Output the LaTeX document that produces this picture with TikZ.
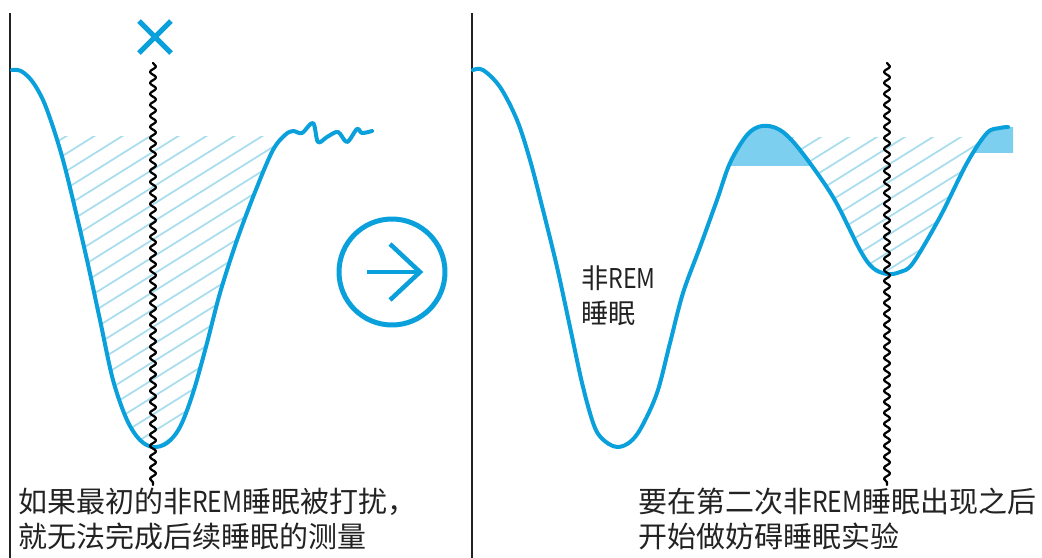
\documentclass[tikz,border=0pt]{standalone}
\usepackage{fontspec}
\newfontfamily\cjk{Noto Sans CJK SC}
\usetikzlibrary{calc,decorations.pathmorphing}

\definecolor{sleepblue}{HTML}{0AA0DC}
\definecolor{sleepfill}{HTML}{7DCFF0}
\definecolor{hatchblue}{HTML}{A8DDEE}
\definecolor{inkgray}{HTML}{222222}

\newcommand\remtxt{\scalebox{0.85}[1]{REM}}

\tikzset{
  sleepcurve/.style={draw=sleepblue, line width=0.08cm},
  hatchline/.style={draw=hatchblue, line width=0.035cm},
  framebar/.style={draw=inkgray, line width=0.05cm, line cap=butt},
  wakeline/.style={draw=black, line width=0.045cm, decorate,
    decoration={snake, amplitude=0.06cm, segment length=0.22cm}},
  crossmark/.style={draw=sleepblue, line width=0.1cm, line cap=butt},
  arrowstroke/.style={draw=sleepblue, line width=0.09cm, line join=miter, line cap=butt},
  note/.style={font=\cjk\fontsize{16.5}{19.9}\selectfont, align=left, inner sep=0pt, text=inkgray},
  % 两条睡眠曲线
  curveL/.style={insert path={plot[smooth, tension=0.55] coordinates {
    (12,70) (21,71) (32,81) (43,100) (53,127) (63,160) (73,200) (87,260)
    (100,320) (113,380) (127,420) (140,440) (153,447) (167,443) (180,427)
    (193,393) (207,343) (220,293) (237,240) (257,187) (273,150) (285,135)
    (293,131) (302,133) (313,123) (318,142) (327,137) (338,132) (347,142)
    (357,129) (362,133) (372,131)}}},
  curveR/.style={insert path={plot[smooth, tension=0.55] coordinates {
    (473,70) (483,70) (500,87) (517,120) (530,160) (543,210) (557,267)
    (570,327) (583,387) (595,428) (606,442) (618,447) (630,442) (641,428)
    (657,393) (670,343) (683,293) (700,247) (717,200) (730,163) (747,135)
    (762,126) (780,130) (800,150) (833,197) (860,250) (873,268) (887,274)
    (900,272) (913,263) (940,217) (967,163) (987,133) (1000,128) (1008,127)}}}
}

\begin{document}
\begin{tikzpicture}[x=0.02cm, y=-0.02cm, line cap=round, line join=round]
  \useasboundingbox (0,0) rectangle (1042,558);

  % 竖线
  \draw[framebar] (10,13) -- (10,558);
  \draw[framebar] (472,13) -- (472,558);

  % 左边：斜线阴影
  \begin{scope}
    \clip (40,136) rectangle (300,600);
    \clip[curveL] -- (372,0) -- (12,0) -- cycle;
    \foreach \x in {-452,-424,...,300}
      \draw[hatchline] (\x,460) -- ++(528,-330);
  \end{scope}

  % 右边：斜线阴影
  \begin{scope}
    \clip (785,137) rectangle (1000,600);
    \clip[curveR] -- (1008,0) -- (473,0) -- cycle;
    \foreach \x in {276,304,...,724}
      \draw[hatchline] (\x,460) -- ++(528,-330);
  \end{scope}

  % 右边：填充
  \begin{scope}
    \clip (700,0) rectangle (850,165);
    \fill[sleepfill, curveR] -- (1008,600) -- (473,600) -- cycle;
  \end{scope}
  \begin{scope}
    \clip (950,0) rectangle (1013,152);
    \fill[sleepfill, curveR] -- (1013,127) -- (1013,600) -- (473,600) -- cycle;
  \end{scope}

  % 曲线
  \draw[sleepcurve, curveL];
  \draw[sleepcurve, curveR];

  % 打扰的时刻
  \draw[wakeline] (153,63) -- (153,485);
  \draw[wakeline] (887,63) -- (887,485);
  \draw[crossmark] (139,21) -- (171,53);
  \draw[crossmark] (171,21) -- (139,53);

  % 箭头
  \node[circle, draw=sleepblue, line width=0.1cm, minimum size=2.12cm, inner sep=0pt] (nextstep) at (392,272) {};
  \draw[arrowstroke] ($(nextstep.center)+(-25,0)$) -- ($(nextstep.center)+(27,0)$);
  \draw[arrowstroke] ($(nextstep.center)+(-2,-28)$) -- ($(nextstep.center)+(28,0)$) -- ($(nextstep.center)+(-2,28)$);

  % 文字
  \node[note, font=\cjk\fontsize{15.5}{19.9}\selectfont, anchor=north west] (nremlabel) at (581,265) {非\remtxt\\睡眠};
  \node[note, anchor=north west] (noteL) at (18,488) {如果最初的非\remtxt 睡眠被打扰，\\就无法完成后续睡眠的测量};
  \node[note, anchor=north west] (noteR) at (638,488) {要在第二次非\remtxt 睡眠出现之后\\开始做妨碍睡眠实验};
\end{tikzpicture}
\end{document}
